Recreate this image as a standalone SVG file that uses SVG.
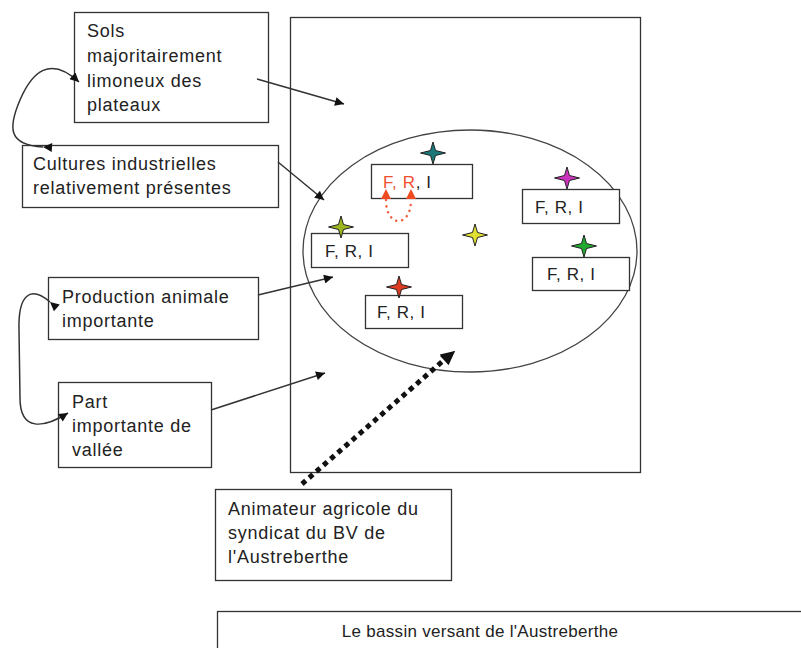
<svg xmlns="http://www.w3.org/2000/svg" width="801" height="648" viewBox="0 0 801 648">
<defs>
<style>
.box{fill:#fff;stroke:#333;stroke-width:1.3}
.t{font-family:"Liberation Sans",Arial,sans-serif;font-size:18px;letter-spacing:0.75px;fill:#222}
.f{font-family:"Liberation Sans",Arial,sans-serif;font-size:17px;letter-spacing:0.6px;fill:#222}
.ln{fill:none;stroke:#333;stroke-width:1.5}
.star{stroke:#222;stroke-width:1}
</style>
<marker id="ah" viewBox="0 0 10 10" refX="10" refY="5" markerWidth="11" markerHeight="9" markerUnits="userSpaceOnUse" orient="auto"><path d="M0,0 L10,5 L0,10 z" fill="#111"/></marker>
<marker id="ahb" viewBox="0 0 10 10" refX="10" refY="5" markerWidth="16" markerHeight="14" markerUnits="userSpaceOnUse" orient="auto"><path d="M0,0 L10,5 L0,10 z" fill="#111"/></marker>
<marker id="ahr" viewBox="0 0 10 10" refX="10" refY="5" markerWidth="10" markerHeight="9" markerUnits="userSpaceOnUse" orient="auto"><path d="M0,0 L10,5 L0,10 z" fill="#f04a20"/></marker>
<path id="st" d="M0,-11 L2.5,-2.5 L12.5,0 L2.5,2.5 L0,11 L-2.5,2.5 L-12.5,0 L-2.5,-2.5 z"/>
</defs>

<g id="bassin">
<rect class="box" x="290.5" y="17.5" width="350" height="455"/>
<ellipse cx="470" cy="251" rx="167" ry="121" fill="none" stroke="#444" stroke-width="1.3"/>
</g>

<g id="sols"><rect class="box" x="74.5" y="12.5" width="194" height="110"/>
<text class="t" x="87" y="37">Sols</text><text class="t" x="87" y="62">majoritairement</text><text class="t" x="87" y="87">limoneux des</text><text class="t" x="87" y="111">plateaux</text></g>

<g id="cultures"><rect class="box" x="22.5" y="145.5" width="256" height="62"/>
<text class="t" x="33" y="170">Cultures industrielles</text><text class="t" x="33" y="194">relativement présentes</text></g>

<g id="production"><rect class="box" x="48.5" y="277.5" width="210" height="62"/>
<text class="t" x="62" y="303">Production animale</text><text class="t" x="62" y="327">importante</text></g>

<g id="part"><rect class="box" x="58.5" y="382.5" width="153" height="85"/>
<text class="t" x="72" y="408">Part</text><text class="t" x="72" y="432">importante de</text><text class="t" x="72" y="456">vallée</text></g>

<g id="animateur"><rect class="box" x="215.5" y="489.5" width="236" height="91"/>
<text class="t" x="228" y="515">Animateur agricole du</text><text class="t" x="228" y="539">syndicat du BV de</text><text class="t" x="228" y="563">l'Austreberthe</text></g>

<g id="titre"><rect class="box" x="217.5" y="611.5" width="600" height="60"/>
<text x="480" y="637" text-anchor="middle" font-family="Liberation Sans, Arial, sans-serif" font-size="17" letter-spacing="0.3" fill="#222">Le bassin versant de l'Austreberthe</text></g>

<g id="acteur1"><rect class="box" x="371.5" y="164.5" width="101" height="34"/>
<text class="f" x="383" y="188"><tspan fill="#f05030">F, R</tspan>, I</text>
<use href="#st" x="433" y="153" class="star" fill="#1a7878"/></g>

<g id="acteur2"><rect class="box" x="522.5" y="189.5" width="97" height="34"/>
<text class="f" x="535" y="213">F, R, I</text>
<use href="#st" x="567" y="178" class="star" fill="#cc33bb"/></g>

<g id="acteur3"><rect class="box" x="311.5" y="233.5" width="97" height="34"/>
<text class="f" x="325" y="257">F, R, I</text>
<use href="#st" x="341" y="227" class="star" fill="#9ab520"/></g>

<g id="acteur4"><use href="#st" x="475" y="235" class="star" fill="#e0e030"/></g>

<g id="acteur5"><rect class="box" x="532.5" y="257.5" width="97" height="33"/>
<text class="f" x="547" y="280">F, R, I</text>
<use href="#st" x="584" y="246" class="star" fill="#22aa30"/></g>

<g id="acteur6"><rect class="box" x="365.5" y="295.5" width="97" height="33"/>
<text class="f" x="377" y="318">F, R, I</text>
<use href="#st" x="399" y="287" class="star" fill="#dd3a22"/></g>

<g id="connectors">
<line class="ln" x1="257" y1="79" x2="344" y2="104" marker-end="url(#ah)"/>
<line class="ln" x1="278" y1="162" x2="324" y2="200" marker-end="url(#ah)"/>
<line class="ln" x1="258" y1="295" x2="333" y2="277" marker-end="url(#ah)"/>
<line class="ln" x1="211" y1="410" x2="325" y2="373" marker-end="url(#ah)"/>
<path class="ln" d="M43,147 C8,145 8,128 20,100 C32,72 50,55 79,82" marker-start="url(#ah)" marker-end="url(#ah)"/>
<path class="ln" d="M50,302 C30,285 18,295 19,330 L20,398 C20,432 44,428 68,413" marker-start="url(#ah)" marker-end="url(#ah)"/>
<line x1="302" y1="484" x2="444" y2="360" stroke="#111" stroke-width="5" stroke-dasharray="5 4.5"/>
<line x1="444" y1="360" x2="455" y2="351" stroke="none" marker-end="url(#ahb)"/>
<path d="M455,351 L440,356 L448,364 z" fill="#111"/>
<path d="M386,200 C386,228 411,228 411,200" fill="none" stroke="#f06040" stroke-width="2.5" stroke-dasharray="0.1 6" stroke-linecap="round"/>
<path d="M386,189 L381,199 L391,199 z" fill="#f04a20"/>
<path d="M411,189 L406,199 L416,199 z" fill="#f04a20"/>
</g>
</svg>
